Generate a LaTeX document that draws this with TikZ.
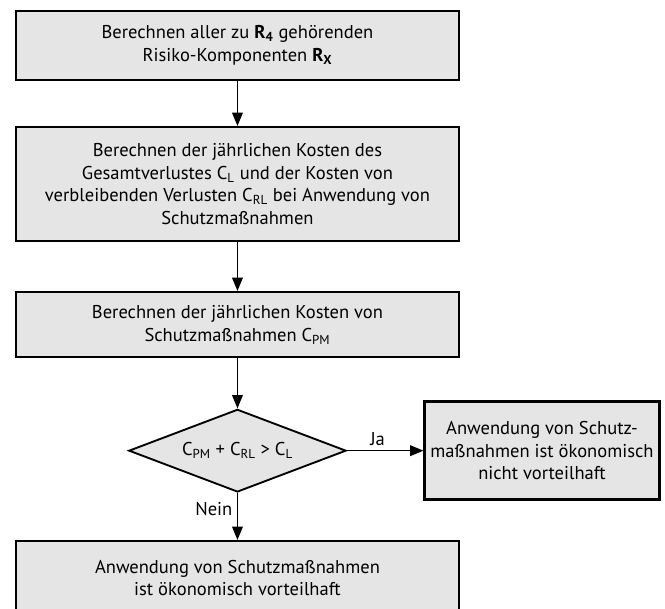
\documentclass[tikz,border=0pt]{standalone}
\usepackage{fontspec}
\setmainfont{PT Sans}
\usetikzlibrary{positioning,shapes.geometric,arrows.meta}

\begin{document}
\begin{tikzpicture}[node distance={104pt}, >={Triangle[width=8pt,length=10pt]},
    main/.style = {draw, rectangle, line width=1.8pt, fill=black!10, minimum width=332pt, align=center, font=\fontsize{13.9}{17}\selectfont},
    cond/.style = {draw, diamond, line width=1.4pt, fill=black!10, minimum width=163pt, minimum height=62pt, aspect=2.6, inner sep=0pt, font=\fontsize{13.9}{17}\selectfont},
    lbl/.style = {font=\fontsize{13.9}{17}\selectfont}]
    \useasboundingbox (0,0) rectangle (498.75pt,-456pt);
    \node[main, minimum height=51.75pt] (1) at (178.1pt,-34.1pt) {Berechnen aller zu \textbf{R\textsubscript{4}} gehörenden\\ Risiko-Komponenten \textbf{R\textsubscript{X}}};
    \node[main, minimum height=85.5pt] (2) [below of=1] {Berechnen der jährlichen Kosten des\\ Gesamtverlustes C\textsubscript{L} und der Kosten von\\ verbleibenden Verlusten C\textsubscript{RL} bei Anwendung von\\ Schutzmaßnahmen};
    \node[main, minimum height=48.75pt] (3) [below of=2, node distance={105.4pt}] {Berechnen der jährlichen Kosten von\\ Schutzmaßnahmen C\textsubscript{PM}};
    \node[cond] (4) [below of=3, node distance={94.5pt}] {C\textsubscript{PM} + C\textsubscript{RL} > C\textsubscript{L}};
    \node[main, minimum width=176pt, minimum height=73.5pt] (5) [right of=4, node distance={228.4pt}] {Anwendung von Schutz-\\ maßnahmen ist ökonomisch\\ nicht vorteilhaft};
    \node[main, minimum height=55.5pt] (6) [below of=4, node distance={95.6pt}] {Anwendung von Schutzmaßnahmen\\ ist ökonomisch vorteilhaft};
    \draw[->, line width=1.1pt] (1) -- (2);
    \draw[->, line width=1.1pt] (2) -- (3);
    \draw[->, line width=1.1pt] (3) -- (4);
    \draw[->, line width=1.1pt] (4) -- node[lbl, above, pos=0.4] {Ja} (5);
    \draw[->, line width=1.1pt] (4) -- node[lbl, left, pos=0.35] {Nein} (6);
\end{tikzpicture}
\end{document}
